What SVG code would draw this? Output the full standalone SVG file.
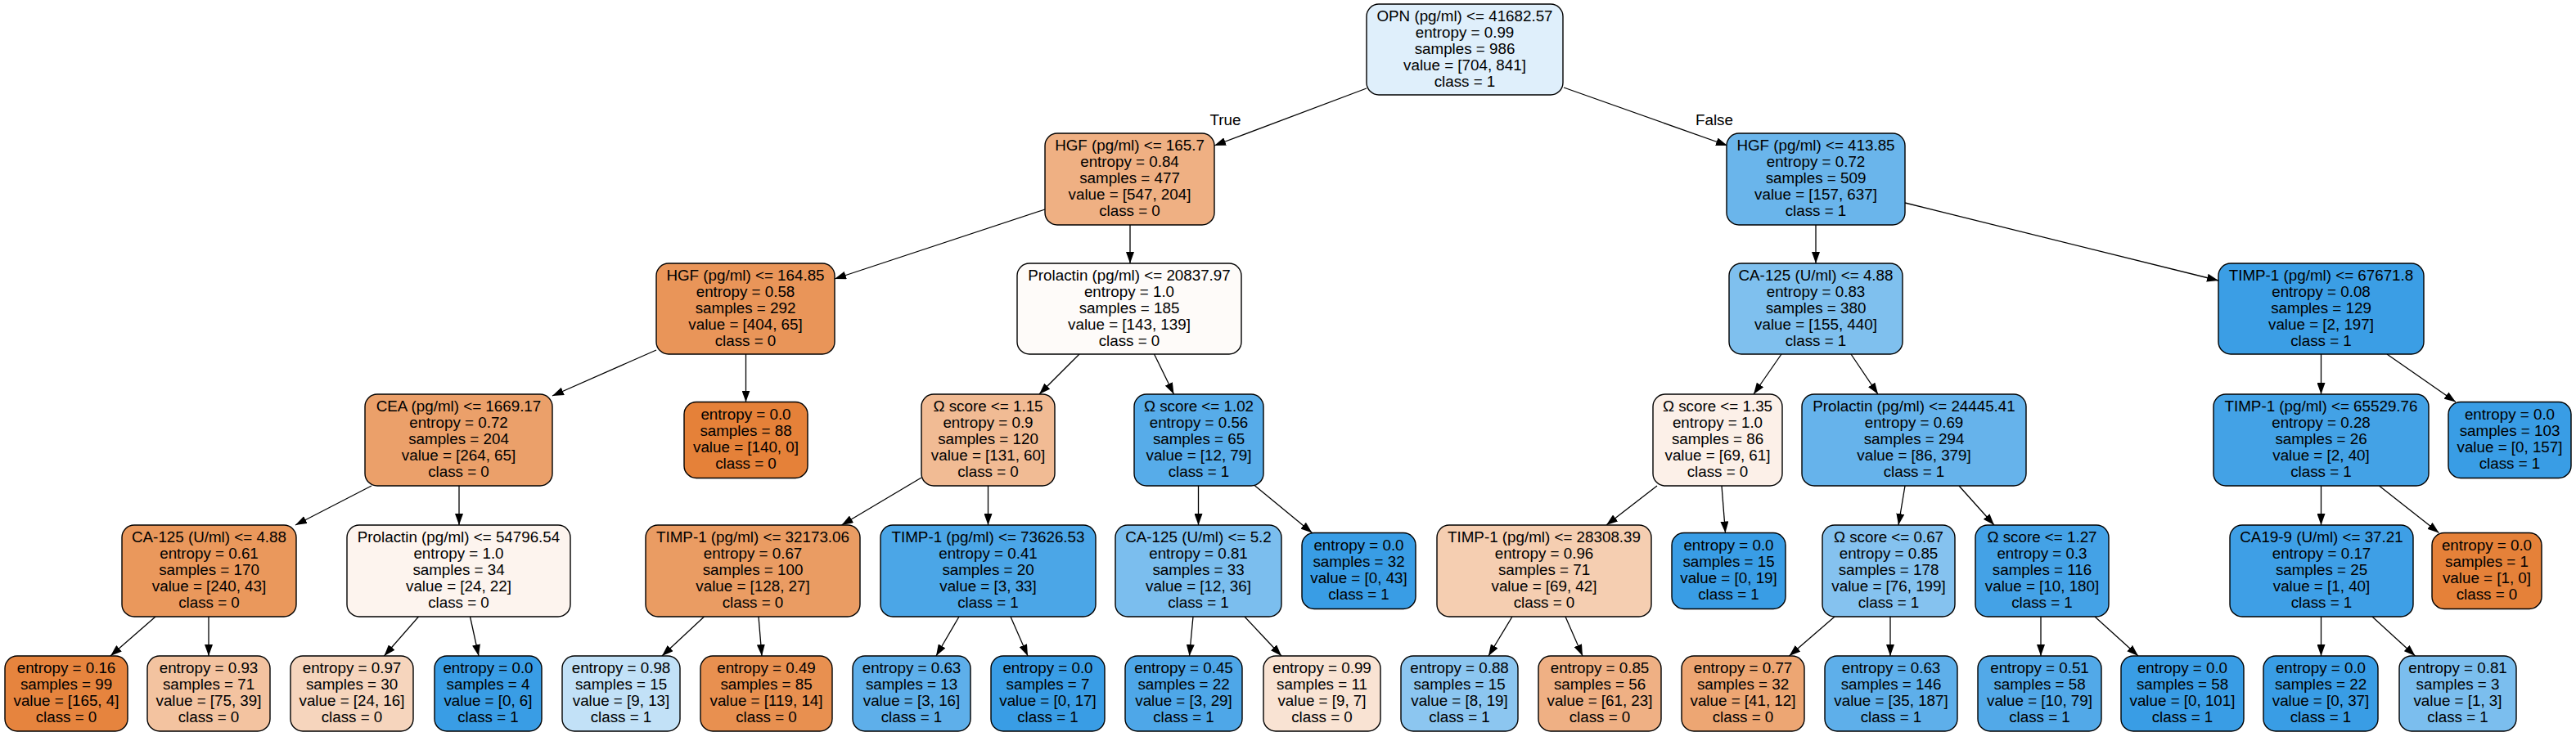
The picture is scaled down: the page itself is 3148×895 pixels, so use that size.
<svg xmlns="http://www.w3.org/2000/svg" width="3148" height="895" viewBox="0 0 3148 895">
<style>
.nd rect{stroke:#000;stroke-width:1.4}
text{font-family:"Liberation Sans",Arial,Helvetica,sans-serif;font-size:18.8px;text-anchor:middle;fill:#000}
.ed line{stroke:#000;stroke-width:1.3;marker-end:url(#ah)}
</style>
<defs>
<marker id="ah" markerUnits="userSpaceOnUse" markerWidth="14" markerHeight="10" refX="14" refY="5" orient="auto"><path d="M0,0 L14,5 L0,10 z" fill="#000"/></marker>
</defs>
<rect x="0" y="0" width="3148" height="895" fill="#fff"/>
<g id="edges" class="ed">
<line x1="1670" y1="108" x2="1484" y2="178"/>
<line x1="1911" y1="107" x2="2111" y2="178"/>
<line x1="1277" y1="256" x2="1020" y2="341"/>
<line x1="1381" y1="275" x2="1381" y2="322"/>
<line x1="2219" y1="275" x2="2219" y2="322"/>
<line x1="2328" y1="248" x2="2711" y2="343"/>
<line x1="802" y1="428" x2="675" y2="484"/>
<line x1="911.5" y1="433" x2="911.5" y2="491.5"/>
<line x1="1319" y1="433" x2="1270" y2="482"/>
<line x1="1410.5" y1="433" x2="1434.5" y2="482"/>
<line x1="2177" y1="433" x2="2143" y2="482"/>
<line x1="2262" y1="433" x2="2295" y2="482"/>
<line x1="2836.5" y1="433" x2="2836.5" y2="482"/>
<line x1="2917" y1="433" x2="3001" y2="491.5"/>
<line x1="454" y1="594" x2="361" y2="642"/>
<line x1="561" y1="594" x2="561" y2="642"/>
<line x1="1126" y1="584" x2="1028.5" y2="642"/>
<line x1="1207.5" y1="594" x2="1207.5" y2="642"/>
<line x1="1464.5" y1="594" x2="1464.5" y2="642"/>
<line x1="1532.5" y1="593" x2="1603.5" y2="651.5"/>
<line x1="2025" y1="594" x2="1963" y2="642"/>
<line x1="2104" y1="594" x2="2108.5" y2="651.5"/>
<line x1="2328" y1="594" x2="2320" y2="642"/>
<line x1="2394" y1="594" x2="2437" y2="642"/>
<line x1="2836.5" y1="594" x2="2836.5" y2="642"/>
<line x1="2907.5" y1="594" x2="2980.5" y2="651.5"/>
<line x1="190" y1="754" x2="135" y2="802"/>
<line x1="255" y1="754" x2="255" y2="802"/>
<line x1="511.5" y1="754" x2="469.5" y2="802"/>
<line x1="574.5" y1="754" x2="585" y2="802"/>
<line x1="860.5" y1="754" x2="809" y2="802"/>
<line x1="927" y1="754" x2="931" y2="802"/>
<line x1="1172" y1="754" x2="1144" y2="802"/>
<line x1="1235" y1="754" x2="1256" y2="802"/>
<line x1="1458" y1="754" x2="1453.5" y2="802"/>
<line x1="1521" y1="754" x2="1566" y2="802"/>
<line x1="1848" y1="754" x2="1819" y2="802"/>
<line x1="1913" y1="754" x2="1934" y2="802"/>
<line x1="2242" y1="754" x2="2186.5" y2="802"/>
<line x1="2310" y1="754" x2="2310" y2="802"/>
<line x1="2494" y1="754" x2="2494" y2="802"/>
<line x1="2560" y1="754" x2="2613" y2="802"/>
<line x1="2836.5" y1="754" x2="2836.5" y2="802"/>
<line x1="2899" y1="754" x2="2951.5" y2="802"/>
<text x="1497.5" y="152.5">True</text>
<text x="2095" y="152.5">False</text>
</g>
<g id="n0" class="nd"><rect x="1670" y="5" width="240" height="111" rx="15" fill="#dfeffb"/><text x="1790" y="26"><tspan x="1790">OPN (pg/ml) &lt;= 41682.57</tspan><tspan x="1790" dy="20">entropy = 0.99</tspan><tspan x="1790" dy="20">samples = 986</tspan><tspan x="1790" dy="20">value = [704, 841]</tspan><tspan x="1790" dy="20">class = 1</tspan></text></g>
<g id="n1" class="nd"><rect x="1277" y="163" width="207" height="112" rx="15" fill="#efb083"/><text x="1380.5" y="184"><tspan x="1380.5">HGF (pg/ml) &lt;= 165.7</tspan><tspan x="1380.5" dy="20">entropy = 0.84</tspan><tspan x="1380.5" dy="20">samples = 477</tspan><tspan x="1380.5" dy="20">value = [547, 204]</tspan><tspan x="1380.5" dy="20">class = 0</tspan></text></g>
<g id="n2" class="nd"><rect x="2110" y="163" width="218" height="112" rx="15" fill="#6ab5eb"/><text x="2219" y="184"><tspan x="2219">HGF (pg/ml) &lt;= 413.85</tspan><tspan x="2219" dy="20">entropy = 0.72</tspan><tspan x="2219" dy="20">samples = 509</tspan><tspan x="2219" dy="20">value = [157, 637]</tspan><tspan x="2219" dy="20">class = 1</tspan></text></g>
<g id="n3" class="nd"><rect x="802" y="322" width="218" height="111" rx="15" fill="#e99559"/><text x="911" y="343"><tspan x="911">HGF (pg/ml) &lt;= 164.85</tspan><tspan x="911" dy="20">entropy = 0.58</tspan><tspan x="911" dy="20">samples = 292</tspan><tspan x="911" dy="20">value = [404, 65]</tspan><tspan x="911" dy="20">class = 0</tspan></text></g>
<g id="n4" class="nd"><rect x="1243" y="322" width="274" height="111" rx="15" fill="#fefbf9"/><text x="1380" y="343"><tspan x="1380">Prolactin (pg/ml) &lt;= 20837.97</tspan><tspan x="1380" dy="20">entropy = 1.0</tspan><tspan x="1380" dy="20">samples = 185</tspan><tspan x="1380" dy="20">value = [143, 139]</tspan><tspan x="1380" dy="20">class = 0</tspan></text></g>
<g id="n5" class="nd"><rect x="2113" y="322" width="212" height="111" rx="15" fill="#7fc0ee"/><text x="2219" y="343"><tspan x="2219">CA-125 (U/ml) &lt;= 4.88</tspan><tspan x="2219" dy="20">entropy = 0.83</tspan><tspan x="2219" dy="20">samples = 380</tspan><tspan x="2219" dy="20">value = [155, 440]</tspan><tspan x="2219" dy="20">class = 1</tspan></text></g>
<g id="n6" class="nd"><rect x="2711" y="322" width="251" height="111" rx="15" fill="#3b9ee5"/><text x="2836.5" y="343"><tspan x="2836.5">TIMP-1 (pg/ml) &lt;= 67671.8</tspan><tspan x="2836.5" dy="20">entropy = 0.08</tspan><tspan x="2836.5" dy="20">samples = 129</tspan><tspan x="2836.5" dy="20">value = [2, 197]</tspan><tspan x="2836.5" dy="20">class = 1</tspan></text></g>
<g id="n7" class="nd"><rect x="446" y="482" width="229" height="112" rx="15" fill="#eba06a"/><text x="560.5" y="503"><tspan x="560.5">CEA (pg/ml) &lt;= 1669.17</tspan><tspan x="560.5" dy="20">entropy = 0.72</tspan><tspan x="560.5" dy="20">samples = 204</tspan><tspan x="560.5" dy="20">value = [264, 65]</tspan><tspan x="560.5" dy="20">class = 0</tspan></text></g>
<g id="n8" class="nd"><rect x="836" y="491.5" width="151" height="93" rx="15" fill="#e58139"/><text x="911.5" y="512.5"><tspan x="911.5">entropy = 0.0</tspan><tspan x="911.5" dy="20">samples = 88</tspan><tspan x="911.5" dy="20">value = [140, 0]</tspan><tspan x="911.5" dy="20">class = 0</tspan></text></g>
<g id="n9" class="nd"><rect x="1126" y="482" width="163" height="112" rx="15" fill="#f1bb94"/><text x="1207.5" y="503"><tspan x="1207.5">Ω score &lt;= 1.15</tspan><tspan x="1207.5" dy="20">entropy = 0.9</tspan><tspan x="1207.5" dy="20">samples = 120</tspan><tspan x="1207.5" dy="20">value = [131, 60]</tspan><tspan x="1207.5" dy="20">class = 0</tspan></text></g>
<g id="n10" class="nd"><rect x="1386" y="482" width="158" height="112" rx="15" fill="#57ace9"/><text x="1465" y="503"><tspan x="1465">Ω score &lt;= 1.02</tspan><tspan x="1465" dy="20">entropy = 0.56</tspan><tspan x="1465" dy="20">samples = 65</tspan><tspan x="1465" dy="20">value = [12, 79]</tspan><tspan x="1465" dy="20">class = 1</tspan></text></g>
<g id="n11" class="nd"><rect x="2020" y="482" width="158" height="112" rx="15" fill="#fcf0e8"/><text x="2099" y="503"><tspan x="2099">Ω score &lt;= 1.35</tspan><tspan x="2099" dy="20">entropy = 1.0</tspan><tspan x="2099" dy="20">samples = 86</tspan><tspan x="2099" dy="20">value = [69, 61]</tspan><tspan x="2099" dy="20">class = 0</tspan></text></g>
<g id="n12" class="nd"><rect x="2202" y="482" width="274" height="112" rx="15" fill="#66b3eb"/><text x="2339" y="503"><tspan x="2339">Prolactin (pg/ml) &lt;= 24445.41</tspan><tspan x="2339" dy="20">entropy = 0.69</tspan><tspan x="2339" dy="20">samples = 294</tspan><tspan x="2339" dy="20">value = [86, 379]</tspan><tspan x="2339" dy="20">class = 1</tspan></text></g>
<g id="n13" class="nd"><rect x="2705" y="482" width="263" height="112" rx="15" fill="#43a2e6"/><text x="2836.5" y="503"><tspan x="2836.5">TIMP-1 (pg/ml) &lt;= 65529.76</tspan><tspan x="2836.5" dy="20">entropy = 0.28</tspan><tspan x="2836.5" dy="20">samples = 26</tspan><tspan x="2836.5" dy="20">value = [2, 40]</tspan><tspan x="2836.5" dy="20">class = 1</tspan></text></g>
<g id="n14" class="nd"><rect x="2992" y="491.5" width="150" height="93" rx="15" fill="#399de5"/><text x="3067" y="512.5"><tspan x="3067">entropy = 0.0</tspan><tspan x="3067" dy="20">samples = 103</tspan><tspan x="3067" dy="20">value = [0, 157]</tspan><tspan x="3067" dy="20">class = 1</tspan></text></g>
<g id="n15" class="nd"><rect x="149" y="642" width="213" height="112" rx="15" fill="#ea985c"/><text x="255.5" y="663"><tspan x="255.5">CA-125 (U/ml) &lt;= 4.88</tspan><tspan x="255.5" dy="20">entropy = 0.61</tspan><tspan x="255.5" dy="20">samples = 170</tspan><tspan x="255.5" dy="20">value = [240, 43]</tspan><tspan x="255.5" dy="20">class = 0</tspan></text></g>
<g id="n16" class="nd"><rect x="424" y="642" width="273" height="112" rx="15" fill="#fdf4ee"/><text x="560.5" y="663"><tspan x="560.5">Prolactin (pg/ml) &lt;= 54796.54</tspan><tspan x="560.5" dy="20">entropy = 1.0</tspan><tspan x="560.5" dy="20">samples = 34</tspan><tspan x="560.5" dy="20">value = [24, 22]</tspan><tspan x="560.5" dy="20">class = 0</tspan></text></g>
<g id="n17" class="nd"><rect x="789" y="642" width="262" height="112" rx="15" fill="#ea9c63"/><text x="920" y="663"><tspan x="920">TIMP-1 (pg/ml) &lt;= 32173.06</tspan><tspan x="920" dy="20">entropy = 0.67</tspan><tspan x="920" dy="20">samples = 100</tspan><tspan x="920" dy="20">value = [128, 27]</tspan><tspan x="920" dy="20">class = 0</tspan></text></g>
<g id="n18" class="nd"><rect x="1076" y="642" width="263" height="112" rx="15" fill="#4ba6e7"/><text x="1207.5" y="663"><tspan x="1207.5">TIMP-1 (pg/ml) &lt;= 73626.53</tspan><tspan x="1207.5" dy="20">entropy = 0.41</tspan><tspan x="1207.5" dy="20">samples = 20</tspan><tspan x="1207.5" dy="20">value = [3, 33]</tspan><tspan x="1207.5" dy="20">class = 1</tspan></text></g>
<g id="n19" class="nd"><rect x="1363" y="642" width="203" height="112" rx="15" fill="#7bbeee"/><text x="1464.5" y="663"><tspan x="1464.5">CA-125 (U/ml) &lt;= 5.2</tspan><tspan x="1464.5" dy="20">entropy = 0.81</tspan><tspan x="1464.5" dy="20">samples = 33</tspan><tspan x="1464.5" dy="20">value = [12, 36]</tspan><tspan x="1464.5" dy="20">class = 1</tspan></text></g>
<g id="n20" class="nd"><rect x="1591" y="651.5" width="139" height="93" rx="15" fill="#399de5"/><text x="1660.5" y="672.5"><tspan x="1660.5">entropy = 0.0</tspan><tspan x="1660.5" dy="20">samples = 32</tspan><tspan x="1660.5" dy="20">value = [0, 43]</tspan><tspan x="1660.5" dy="20">class = 1</tspan></text></g>
<g id="n21" class="nd"><rect x="1756" y="642" width="262" height="112" rx="15" fill="#f5ceb1"/><text x="1887" y="663"><tspan x="1887">TIMP-1 (pg/ml) &lt;= 28308.39</tspan><tspan x="1887" dy="20">entropy = 0.96</tspan><tspan x="1887" dy="20">samples = 71</tspan><tspan x="1887" dy="20">value = [69, 42]</tspan><tspan x="1887" dy="20">class = 0</tspan></text></g>
<g id="n22" class="nd"><rect x="2043" y="651.5" width="139" height="93" rx="15" fill="#399de5"/><text x="2112.5" y="672.5"><tspan x="2112.5">entropy = 0.0</tspan><tspan x="2112.5" dy="20">samples = 15</tspan><tspan x="2112.5" dy="20">value = [0, 19]</tspan><tspan x="2112.5" dy="20">class = 1</tspan></text></g>
<g id="n23" class="nd"><rect x="2227" y="642" width="162" height="112" rx="15" fill="#85c2ef"/><text x="2308" y="663"><tspan x="2308">Ω score &lt;= 0.67</tspan><tspan x="2308" dy="20">entropy = 0.85</tspan><tspan x="2308" dy="20">samples = 178</tspan><tspan x="2308" dy="20">value = [76, 199]</tspan><tspan x="2308" dy="20">class = 1</tspan></text></g>
<g id="n24" class="nd"><rect x="2414" y="642" width="163" height="112" rx="15" fill="#44a2e6"/><text x="2495.5" y="663"><tspan x="2495.5">Ω score &lt;= 1.27</tspan><tspan x="2495.5" dy="20">entropy = 0.3</tspan><tspan x="2495.5" dy="20">samples = 116</tspan><tspan x="2495.5" dy="20">value = [10, 180]</tspan><tspan x="2495.5" dy="20">class = 1</tspan></text></g>
<g id="n25" class="nd"><rect x="2725" y="642" width="224" height="112" rx="15" fill="#3e9fe6"/><text x="2837" y="663"><tspan x="2837">CA19-9 (U/ml) &lt;= 37.21</tspan><tspan x="2837" dy="20">entropy = 0.17</tspan><tspan x="2837" dy="20">samples = 25</tspan><tspan x="2837" dy="20">value = [1, 40]</tspan><tspan x="2837" dy="20">class = 1</tspan></text></g>
<g id="n26" class="nd"><rect x="2972" y="651.5" width="134" height="93" rx="15" fill="#e58139"/><text x="3039" y="672.5"><tspan x="3039">entropy = 0.0</tspan><tspan x="3039" dy="20">samples = 1</tspan><tspan x="3039" dy="20">value = [1, 0]</tspan><tspan x="3039" dy="20">class = 0</tspan></text></g>
<g id="n27" class="nd"><rect x="6" y="802" width="150" height="92" rx="15" fill="#e6843e"/><text x="81" y="823"><tspan x="81">entropy = 0.16</tspan><tspan x="81" dy="20">samples = 99</tspan><tspan x="81" dy="20">value = [165, 4]</tspan><tspan x="81" dy="20">class = 0</tspan></text></g>
<g id="n28" class="nd"><rect x="180" y="802" width="150" height="92" rx="15" fill="#f3c3a0"/><text x="255" y="823"><tspan x="255">entropy = 0.93</tspan><tspan x="255" dy="20">samples = 71</tspan><tspan x="255" dy="20">value = [75, 39]</tspan><tspan x="255" dy="20">class = 0</tspan></text></g>
<g id="n29" class="nd"><rect x="355" y="802" width="150" height="92" rx="15" fill="#f6d5bd"/><text x="430" y="823"><tspan x="430">entropy = 0.97</tspan><tspan x="430" dy="20">samples = 30</tspan><tspan x="430" dy="20">value = [24, 16]</tspan><tspan x="430" dy="20">class = 0</tspan></text></g>
<g id="n30" class="nd"><rect x="531" y="802" width="131" height="92" rx="15" fill="#399de5"/><text x="596.5" y="823"><tspan x="596.5">entropy = 0.0</tspan><tspan x="596.5" dy="20">samples = 4</tspan><tspan x="596.5" dy="20">value = [0, 6]</tspan><tspan x="596.5" dy="20">class = 1</tspan></text></g>
<g id="n31" class="nd"><rect x="687" y="802" width="144" height="92" rx="15" fill="#c2e1f7"/><text x="759" y="823"><tspan x="759">entropy = 0.98</tspan><tspan x="759" dy="20">samples = 15</tspan><tspan x="759" dy="20">value = [9, 13]</tspan><tspan x="759" dy="20">class = 1</tspan></text></g>
<g id="n32" class="nd"><rect x="856" y="802" width="161" height="92" rx="15" fill="#e89050"/><text x="936.5" y="823"><tspan x="936.5">entropy = 0.49</tspan><tspan x="936.5" dy="20">samples = 85</tspan><tspan x="936.5" dy="20">value = [119, 14]</tspan><tspan x="936.5" dy="20">class = 0</tspan></text></g>
<g id="n33" class="nd"><rect x="1042" y="802" width="144" height="92" rx="15" fill="#5eafea"/><text x="1114" y="823"><tspan x="1114">entropy = 0.63</tspan><tspan x="1114" dy="20">samples = 13</tspan><tspan x="1114" dy="20">value = [3, 16]</tspan><tspan x="1114" dy="20">class = 1</tspan></text></g>
<g id="n34" class="nd"><rect x="1211" y="802" width="139" height="92" rx="15" fill="#399de5"/><text x="1280.5" y="823"><tspan x="1280.5">entropy = 0.0</tspan><tspan x="1280.5" dy="20">samples = 7</tspan><tspan x="1280.5" dy="20">value = [0, 17]</tspan><tspan x="1280.5" dy="20">class = 1</tspan></text></g>
<g id="n35" class="nd"><rect x="1375" y="802" width="143" height="92" rx="15" fill="#4ea7e8"/><text x="1446.5" y="823"><tspan x="1446.5">entropy = 0.45</tspan><tspan x="1446.5" dy="20">samples = 22</tspan><tspan x="1446.5" dy="20">value = [3, 29]</tspan><tspan x="1446.5" dy="20">class = 1</tspan></text></g>
<g id="n36" class="nd"><rect x="1544" y="802" width="143" height="92" rx="15" fill="#f9e3d3"/><text x="1615.5" y="823"><tspan x="1615.5">entropy = 0.99</tspan><tspan x="1615.5" dy="20">samples = 11</tspan><tspan x="1615.5" dy="20">value = [9, 7]</tspan><tspan x="1615.5" dy="20">class = 0</tspan></text></g>
<g id="n37" class="nd"><rect x="1712" y="802" width="143" height="92" rx="15" fill="#8cc6f0"/><text x="1783.5" y="823"><tspan x="1783.5">entropy = 0.88</tspan><tspan x="1783.5" dy="20">samples = 15</tspan><tspan x="1783.5" dy="20">value = [8, 19]</tspan><tspan x="1783.5" dy="20">class = 1</tspan></text></g>
<g id="n38" class="nd"><rect x="1880" y="802" width="150" height="92" rx="15" fill="#efb084"/><text x="1955" y="823"><tspan x="1955">entropy = 0.85</tspan><tspan x="1955" dy="20">samples = 56</tspan><tspan x="1955" dy="20">value = [61, 23]</tspan><tspan x="1955" dy="20">class = 0</tspan></text></g>
<g id="n39" class="nd"><rect x="2055" y="802" width="150" height="92" rx="15" fill="#eda673"/><text x="2130" y="823"><tspan x="2130">entropy = 0.77</tspan><tspan x="2130" dy="20">samples = 32</tspan><tspan x="2130" dy="20">value = [41, 12]</tspan><tspan x="2130" dy="20">class = 0</tspan></text></g>
<g id="n40" class="nd"><rect x="2230" y="802" width="162" height="92" rx="15" fill="#5eafea"/><text x="2311" y="823"><tspan x="2311">entropy = 0.63</tspan><tspan x="2311" dy="20">samples = 146</tspan><tspan x="2311" dy="20">value = [35, 187]</tspan><tspan x="2311" dy="20">class = 1</tspan></text></g>
<g id="n41" class="nd"><rect x="2417" y="802" width="151" height="92" rx="15" fill="#52a9e8"/><text x="2492.5" y="823"><tspan x="2492.5">entropy = 0.51</tspan><tspan x="2492.5" dy="20">samples = 58</tspan><tspan x="2492.5" dy="20">value = [10, 79]</tspan><tspan x="2492.5" dy="20">class = 1</tspan></text></g>
<g id="n42" class="nd"><rect x="2592" y="802" width="150" height="92" rx="15" fill="#399de5"/><text x="2667" y="823"><tspan x="2667">entropy = 0.0</tspan><tspan x="2667" dy="20">samples = 58</tspan><tspan x="2667" dy="20">value = [0, 101]</tspan><tspan x="2667" dy="20">class = 1</tspan></text></g>
<g id="n43" class="nd"><rect x="2766" y="802" width="140" height="92" rx="15" fill="#399de5"/><text x="2836" y="823"><tspan x="2836">entropy = 0.0</tspan><tspan x="2836" dy="20">samples = 22</tspan><tspan x="2836" dy="20">value = [0, 37]</tspan><tspan x="2836" dy="20">class = 1</tspan></text></g>
<g id="n44" class="nd"><rect x="2932" y="802" width="143" height="92" rx="15" fill="#7bbeee"/><text x="3003.5" y="823"><tspan x="3003.5">entropy = 0.81</tspan><tspan x="3003.5" dy="20">samples = 3</tspan><tspan x="3003.5" dy="20">value = [1, 3]</tspan><tspan x="3003.5" dy="20">class = 1</tspan></text></g>
</svg>
